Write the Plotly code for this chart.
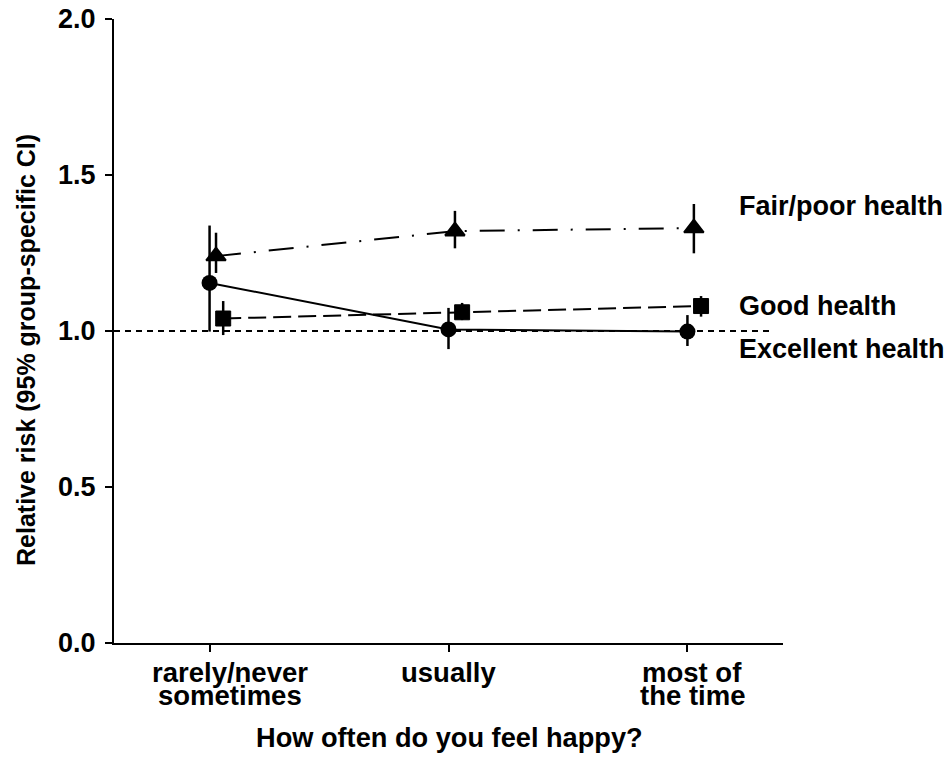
import plotly.graph_objects as go

# Happiness categories (two-line tick labels) and their axis positions
categories_line1 = ["rarely/never", "usually", "most of"]
categories_line2 = ["sometimes", "", "the time"]
x_pos = [1, 2, 3]

# Relative risk with 95% group-specific CI, by self-rated health
excellent_rr = [1.154, 1.005, 0.998]
excellent_hi = [1.338, 1.074, 1.051]
excellent_lo = [0.998, 0.942, 0.952]

good_rr = [1.04, 1.06, 1.08]
good_hi = [1.096, 1.09, 1.112]
good_lo = [0.987, 1.035, 1.046]

fair_rr = [1.24, 1.32, 1.33]
fair_hi = [1.315, 1.385, 1.407]
fair_lo = [1.186, 1.265, 1.249]

series_names = ["Fair/poor health", "Good health", "Excellent health"]
reference_rr = 1.0

y_ticks = [0.0, 0.5, 1.0, 1.5, 2.0]

FONT = "Liberation Sans, Arial, Helvetica, sans-serif"
BOLD = dict(family=FONT, size=27, color="black", weight="bold")

# plot-area geometry in pixels
W, H = 947, 766
L, T, R, B = 114, 19, 164, 123
PW, PH = W - L - R, H - T - B


def px_x(px):
    return (px - L) / PW


def px_y(py):
    return (H - B - py) / PH


def offset(xs, d):
    return [x + d for x in xs]


def err(vals, hi, lo):
    return dict(
        type="data",
        symmetric=False,
        array=[h - v for h, v in zip(hi, vals)],
        arrayminus=[v - l for v, l in zip(vals, lo)],
        color="black",
        thickness=2.5,
        width=0,
    )


fig = go.Figure()

# Excellent health: solid line, circles
fig.add_trace(go.Scatter(
    x=offset(x_pos, 0.0), y=excellent_rr, mode="lines+markers",
    name=series_names[2],
    line=dict(color="black", width=2),
    marker=dict(symbol="circle", size=16, color="black"),
    error_y=err(excellent_rr, excellent_hi, excellent_lo),
))

# Good health: long dashes, squares
fig.add_trace(go.Scatter(
    x=offset(x_pos, 0.057), y=good_rr, mode="lines+markers",
    name=series_names[1],
    line=dict(color="black", width=2, dash="18px,7px"),
    marker=dict(symbol="square", size=15, color="black",
                line=dict(color="black", width=1)),
    error_y=err(good_rr, good_hi, good_lo),
))

# Fair/poor health: dash-dot, triangles
fig.add_trace(go.Scatter(
    x=offset(x_pos, 0.027), y=fair_rr, mode="lines+markers",
    name=series_names[0],
    line=dict(color="black", width=2, dash="25px,13px,2px,13px"),
    marker=dict(symbol="triangle-up", size=17, color="black",
                line=dict(color="black", width=2)),
    error_y=err(fair_rr, fair_hi, fair_lo),
))

# reference line at RR = 1
fig.add_shape(type="line", xref="x", yref="y", layer="below",
              x0=0.6, x1=3.357, y0=reference_rr, y1=reference_rr,
              line=dict(color="black", width=2, dash="6px,5px"))

annotations = []

# category labels below the x axis, tight two-line layout
label_shift = [20, 0, 5]
for x, l1, l2, dx in zip(x_pos, categories_line1, categories_line2, label_shift):
    for text, py in ((l1, 672), (l2, 695)):
        if text:
            annotations.append(dict(
                x=x, xref="x", y=px_y(py), yref="paper", xshift=dx,
                text=text, showarrow=False, xanchor="center", yanchor="middle",
                font=dict(BOLD, size=27.5),
            ))

# series labels on the right
for name, py in zip(series_names, (206, 306, 349)):
    annotations.append(dict(
        x=px_x(737), xref="paper", y=px_y(py), yref="paper",
        text=name, showarrow=False, xanchor="left", yanchor="middle",
        font=BOLD,
    ))

# axis titles
annotations.append(dict(
    x=px_x(449), xref="paper", y=px_y(738), yref="paper",
    text="How often do you feel happy?", showarrow=False,
    xanchor="center", yanchor="middle", font=dict(BOLD, size=27.2),
))
annotations.append(dict(
    x=px_x(26), xref="paper", y=px_y(350), yref="paper",
    text="Relative risk (95% group-specific CI)", showarrow=False,
    xanchor="center", yanchor="middle", textangle=-90,
    font=dict(BOLD, size=25),
))

fig.update_layout(
    width=W, height=H,
    margin=dict(l=L, r=R, t=T, b=B, pad=0, autoexpand=False),
    paper_bgcolor="white", plot_bgcolor="white",
    showlegend=False,
    annotations=annotations,
    xaxis=dict(
        range=[0.6, 3.4], tickvals=x_pos, showticklabels=False,
        ticks="outside", ticklen=7, tickwidth=1.5, tickcolor="black",
        showline=True, linecolor="black", linewidth=2,
        showgrid=False, zeroline=False, fixedrange=True, automargin=False,
    ),
    yaxis=dict(
        range=[0, 2], tickvals=y_ticks,
        ticktext=[f"{v:.1f}" for v in y_ticks],
        ticks="outside", ticklen=7, tickwidth=1.5, tickcolor="black",
        showline=True, linecolor="black", linewidth=2,
        showgrid=False, zeroline=False, fixedrange=True, automargin=False,
        ticklabelstandoff=4,
        tickfont=dict(BOLD, size=27),
    ),
)

fig.write_html("out.html")
